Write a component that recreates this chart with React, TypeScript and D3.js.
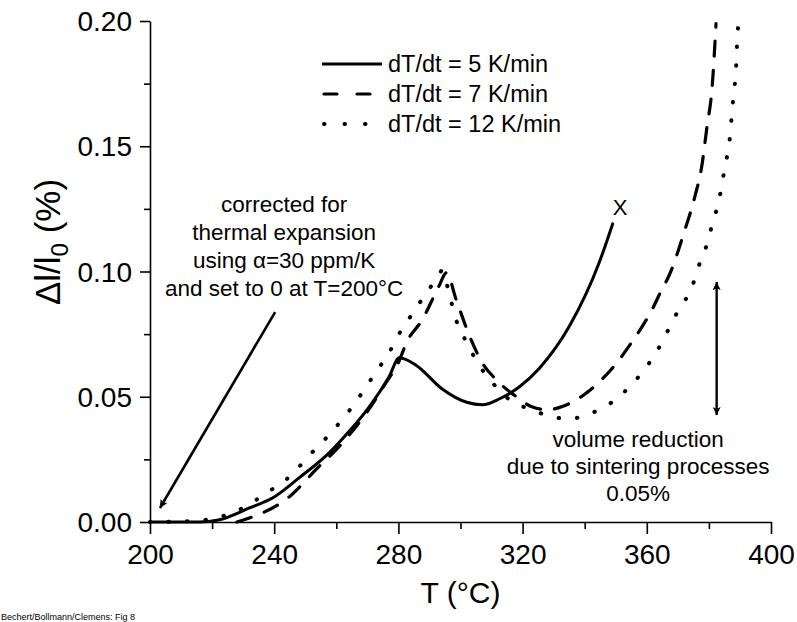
import React, { useEffect, useRef } from "react";
import * as d3 from "d3";

// heating rate 5 K/min (solid), measured until sample broke (X)
const slowT = [200, 210, 216, 222, 232, 240, 248, 257.7, 264, 270.6, 277, 280.3, 285.8, 294, 302, 307, 312.6, 319, 325.5, 335, 344.8, 349];
const slowV = [0, 0, 0, 0.0008, 0.0056, 0.010, 0.0176, 0.0276, 0.036, 0.046, 0.058, 0.0656, 0.0625, 0.0532, 0.0478, 0.0468, 0.0492, 0.054, 0.0615, 0.078, 0.104, 0.119];

// 7 K/min (dashed)
const midT = [228, 232, 244.8, 253.5, 262, 269.7, 276, 280, 282.6, 287.7, 293, 295.5, 298.6, 303, 307, 311.5, 318, 323, 328, 333, 340, 346, 350, 355, 358, 362, 364.5, 367.4, 372, 375.5, 377.7, 379.4, 381, 382.3];
const midV = [0, 0.0016, 0.010, 0.021, 0.0316, 0.0436, 0.0556, 0.0636, 0.0716, 0.0808, 0.094, 0.0995, 0.0888, 0.074, 0.0636, 0.0568, 0.050, 0.046, 0.0448, 0.0462, 0.051, 0.0575, 0.063, 0.0715, 0.077, 0.0855, 0.092, 0.099, 0.1156, 0.130, 0.142, 0.158, 0.173, 0.199];

// 12 K/min (dotted)
const fastT = [200, 215, 225, 232, 237.4, 243, 248, 253, 257.7, 262.6, 266.8, 270, 274, 277, 279.7, 282.6, 286, 289.4, 292.6, 294.2, 296, 298.5, 302, 305.5, 310.3, 315.8, 323, 329.4, 335, 341.6, 348, 353.5, 358.4, 363, 366.8, 370.3, 374.5, 376.8, 379.4, 381.3, 383.2, 384.5, 385.8, 386.8, 387.4, 388, 388.7, 389, 389.4];
const fastV = [0, 0.0005, 0.003, 0.007, 0.0116, 0.016, 0.022, 0.0288, 0.0348, 0.042, 0.0488, 0.0548, 0.062, 0.0676, 0.074, 0.0796, 0.086, 0.092, 0.098, 0.1005, 0.093, 0.081, 0.0716, 0.0636, 0.0556, 0.0488, 0.0448, 0.042, 0.0412, 0.0432, 0.0472, 0.0528, 0.0596, 0.0676, 0.0764, 0.0848, 0.0936, 0.1024, 0.111, 0.120, 0.128, 0.137, 0.1456, 0.154, 0.163, 0.1716, 0.180, 0.189, 0.198];

const seriesNames = ["dT/dt = 5 K/min", "dT/dt = 7 K/min", "dT/dt = 12 K/min"];
const xMajor = [200, 240, 280, 320, 360, 400];
const xMinor = [220, 260, 300, 340, 380];
const yMajor = [0, 0.05, 0.1, 0.15, 0.2];
const yMinor = [0.025, 0.075, 0.125, 0.175];

const noteLeft = ["corrected for", "thermal expansion", "using \u03b1=30 ppm/K", "and set to 0 at T=200\u00b0C"];
const noteRight = ["volume reduction", "due to sintering processes", "0.05%"];

const FONT = "'Liberation Sans', Arial, Helvetica, sans-serif";

export default function App() {
  const ref = useRef<SVGSVGElement>(null);

  useEffect(() => {
    const svg = d3.select(ref.current);
    svg.selectAll("*").remove();

    const x = d3.scaleLinear().domain([200, 400]).range([150, 771]);
    const y = d3.scaleLinear().domain([0, 0.2]).range([522, 21]);

    const defs = svg.append("defs");
    defs.append("marker")
      .attr("id", "head")
      .attr("viewBox", "0 0 10 10")
      .attr("refX", 10).attr("refY", 5)
      .attr("markerWidth", 16).attr("markerHeight", 8)
      .attr("markerUnits", "userSpaceOnUse")
      .attr("orient", "auto-start-reverse")
      .append("path").attr("d", "M0,0 L10,5 L0,10 L2,5 Z").attr("fill", "#000");

    // axes
    const xAxis = svg.append("g").attr("transform", `translate(0,${y(0)})`)
      .call(d3.axisBottom(x).tickValues(xMajor).tickSize(12).tickSizeOuter(0).tickPadding(10).tickFormat(d3.format("d")));
    svg.append("g").attr("transform", `translate(0,${y(0)})`)
      .call(d3.axisBottom(x).tickValues(xMinor).tickSize(7).tickFormat(() => ""))
      .select(".domain").remove();
    const yAxis = svg.append("g").attr("transform", `translate(${x(200)},0)`)
      .call(d3.axisLeft(y).tickValues(yMajor).tickSize(10).tickSizeOuter(0).tickPadding(8).tickFormat(d3.format(".2f")));
    svg.append("g").attr("transform", `translate(${x(200)},0)`)
      .call(d3.axisLeft(y).tickValues(yMinor).tickSize(6).tickFormat(() => ""))
      .select(".domain").remove();
    svg.selectAll(".domain, .tick line").attr("stroke", "#000").attr("stroke-width", 1.6);
    xAxis.selectAll("text").attr("font-size", 28).attr("font-family", FONT).attr("fill", "#000");
    yAxis.selectAll("text").attr("font-size", 28).attr("font-family", FONT).attr("fill", "#000").attr("dy", "0.34em");

    // axis titles
    svg.append("text").attr("x", x(300)).attr("y", 603)
      .attr("text-anchor", "middle").attr("font-size", 30).attr("font-family", FONT)
      .text("T (\u00b0C)");
    const yt = svg.append("text").attr("transform", `translate(60,242) rotate(-90)`)
      .attr("text-anchor", "middle").attr("font-size", 35).attr("font-family", FONT);
    yt.append("tspan").text("\u0394l/l");
    yt.append("tspan").attr("font-size", 24).attr("dy", 8).text("0");
    yt.append("tspan").attr("dy", -8).text(" (%)");

    // curves
    const line = d3.line<[number, number]>()
      .x(d => x(d[0])).y(d => y(d[1]))
      .curve(d3.curveMonotoneX);
    const styles = [
      { dash: null, cap: "round", w: 3 },
      { dash: "15,14", cap: "round", w: 3.2 },
      { dash: "0.5,18", cap: "round", w: 4 },
    ];
    [[slowT, slowV], [midT, midV], [fastT, fastV]].forEach(([ts, vs], i) => {
      const pts = ts.map((t, j) => [t, vs[j]] as [number, number]);
      svg.append("path").attr("d", line(pts))
        .attr("fill", "none").attr("stroke", "#000")
        .attr("stroke-width", styles[i].w)
        .attr("stroke-linecap", styles[i].cap)
        .attr("stroke-dasharray", styles[i].dash);
    });

    // break marker
    svg.append("text").attr("x", x(351.4)).attr("y", y(0.1257) + 8)
      .attr("text-anchor", "middle").attr("font-size", 22).attr("font-family", FONT)
      .text("X");

    // legend
    seriesNames.forEach((name, i) => {
      const ly = 64 + i * 30;
      svg.append("line").attr("x1", 322).attr("x2", 382).attr("y1", ly).attr("y2", ly)
        .attr("stroke", "#000").attr("stroke-width", i === 2 ? 4 : 3.2)
        .attr("stroke-linecap", i === 0 ? "butt" : "round")
        .attr("stroke-dasharray", i === 0 ? null : i === 1 ? "13,20" : "0.5,20")
        .attr("stroke-dashoffset", i === 0 ? 0 : -2);
      svg.append("text").attr("x", 388).attr("y", ly + 8)
        .attr("font-size", 23.5).attr("font-family", FONT).text(name);
    });

    // annotation left
    noteLeft.forEach((s, i) => {
      svg.append("text").attr("x", x(243.2)).attr("y", 212 + i * 28)
        .attr("text-anchor", "middle").attr("font-size", 22.5).attr("font-family", FONT).text(s);
    });
    svg.append("line")
      .attr("x1", x(240.3)).attr("y1", y(0.0838))
      .attr("x2", x(203.2)).attr("y2", y(0.0056))
      .attr("stroke", "#000").attr("stroke-width", 2.6)
      .attr("marker-end", "url(#head)");

    // annotation right
    svg.append("line")
      .attr("x1", x(382.5)).attr("y1", y(0.0958))
      .attr("x2", x(382.5)).attr("y2", y(0.0427))
      .attr("stroke", "#000").attr("stroke-width", 2.4)
      .attr("marker-start", "url(#head)").attr("marker-end", "url(#head)");
    noteRight.forEach((s, i) => {
      svg.append("text").attr("x", x(357.2)).attr("y", 447 + i * 27)
        .attr("text-anchor", "middle").attr("font-size", 22.5).attr("font-family", FONT).text(s);
    });

    // figure tag at the page bottom
    svg.append("text").attr("x", 1).attr("y", 620)
      .attr("font-size", 9).attr("font-family", FONT).text("Bechert/Bollmann/Clemens: Fig 8");
  }, []);

  return (
    <svg ref={ref} width={797} height={622}
      style={{ position: "absolute", left: 0, top: 0, background: "#fff" }} />
  );
}
